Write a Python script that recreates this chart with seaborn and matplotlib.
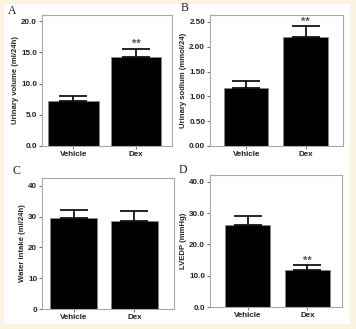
import matplotlib
matplotlib.use("Agg")
import matplotlib.pyplot as plt
import seaborn as sns
import pandas as pd
from matplotlib.patches import Rectangle

sns.set_theme(style="white")
plt.rcParams['font.family'] = ['Liberation Sans', 'DejaVu Sans']

groups = ["Vehicle", "Dex"]
urinary_volume = [7.2, 14.3]
urinary_volume_err = [0.77, 1.3]
urinary_sodium = [1.16, 2.19]
urinary_sodium_err = [0.16, 0.22]
water_intake = [29.6, 28.5]
water_intake_err = [2.6, 3.5]
lvedp = [26.1, 11.7]
lvedp_err = [3.0, 1.7]

W, H = 356, 329
fig = plt.figure(figsize=(W / 100, H / 100), dpi=100)
fig.patch.set_facecolor('#FDF3E1')
fig.add_artist(Rectangle((4 / W, 1 - 324 / H), 346 / W, 320 / H,
                         transform=fig.transFigure, facecolor='white',
                         edgecolor='none', zorder=-10))


def pix_axes(l, r, t, b):
    return fig.add_axes([l / W, 1 - b / H, (r - l) / W, (b - t) / H])


panels = [
    dict(box=(42, 172, 15, 146), vals=urinary_volume, errs=urinary_volume_err,
         ylabel="Urinary volume (ml/24h)", ylim=21.0, ticks=[0, 5, 10, 15, 20], fmt="{:.1f}",
         xlim=(-0.5, 1.57), width=0.8, star=1, letter="A", lpos=(12, 11)),
    dict(box=(210, 343, 15, 146), vals=urinary_sodium, errs=urinary_sodium_err,
         ylabel="Urinary sodium (mmol/24)", ylim=2.64, ticks=[0, 0.5, 1.0, 1.5, 2.0, 2.5], fmt="{:.2f}",
         xlim=(-0.61, 1.63), width=0.75, star=1, letter="B", lpos=(185, 8)),
    dict(box=(42, 174, 178, 309), vals=water_intake, errs=water_intake_err,
         ylabel="Water intake (ml/24h)", ylim=42.6, ticks=[0, 10, 20, 30, 40], fmt="{:.0f}",
         xlim=(-0.52, 1.65), width=0.78, star=None, letter="C", lpos=(16, 171)),
    dict(box=(210, 342, 175, 307), vals=lvedp, errs=lvedp_err,
         ylabel="LVEDP (mmHg)", ylim=42.2, ticks=[0, 10, 20, 30, 40], fmt="{:.1f}",
         xlim=(-0.63, 1.58), width=0.76, star=1, letter="D", lpos=(183, 170)),
]

for p in panels:
    ax = pix_axes(*p["box"])
    df = pd.DataFrame({"group": groups, "value": p["vals"]})
    sns.barplot(data=df, x="group", y="value", color="black", width=p["width"],
                edgecolor="#888888", linewidth=0.5, saturation=1, ax=ax, errorbar=None)
    ax.errorbar([0, 1], p["vals"], yerr=[[0, 0], p["errs"]], fmt="none",
                ecolor="black", elinewidth=1.2, capsize=10, capthick=1.2, zorder=5)
    ax.set_ylim(0, p["ylim"])
    ax.set_xlim(*p["xlim"])
    ax.set_yticks(p["ticks"])
    ax.set_yticklabels([p["fmt"].format(t) for t in p["ticks"]])
    ax.set_xlabel("")
    ax.set_ylabel(p["ylabel"], fontsize=5.6, fontweight="bold", labelpad=1.5)
    ax.set_facecolor("white")
    for s in ax.spines.values():
        s.set_color("#a8a8a8")
        s.set_linewidth(0.8)
        s.set_visible(True)
    ax.tick_params(axis="both", which="both", length=2.5, width=0.6, color="#555555",
                   labelsize=5.8, pad=1, left=True, bottom=True)
    for lab in ax.get_xticklabels() + ax.get_yticklabels():
        lab.set_fontweight("bold")
        lab.set_color("#222222")
    if p["star"] is not None:
        i = p["star"]
        ax.text(i, p["vals"][i] + p["errs"][i] - p["ylim"] * 0.005, "**", ha="center",
                va="bottom", fontsize=8, fontweight="bold", color="#555555")
    fig.text(p["lpos"][0] / W, 1 - p["lpos"][1] / H, p["letter"], ha="center", va="center",
             fontsize=8.5, family=["Liberation Serif", "DejaVu Serif"], color="#222222")

fig.savefig("out.png", dpi=100, facecolor=fig.get_facecolor())
